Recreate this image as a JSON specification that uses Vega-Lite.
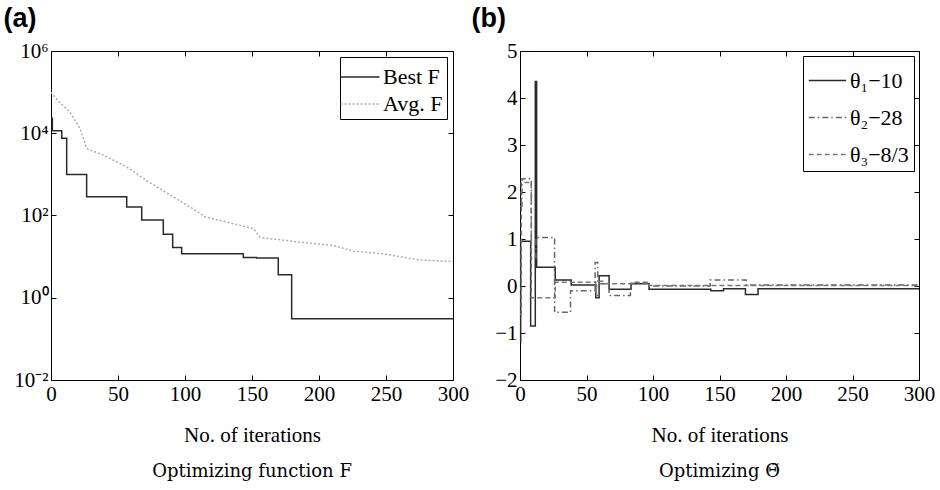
{
  "$schema": "https://vega.github.io/schema/vega-lite/v6.json",
  "padding": {"left": 3, "top": 4, "right": 5, "bottom": 5},
  "background": "white",
  "config": {
    "font": "Liberation Serif",
    "view": {"stroke": null},
    "title": {"font": "DejaVu Serif", "fontSize": 18, "fontWeight": "normal", "color": "black", "orient": "bottom", "offset": 18},
    "axis": {
      "labelFont": "Liberation Serif", "titleFont": "Liberation Serif",
      "labelColor": "black", "titleColor": "black",
      "domainColor": "black", "tickColor": "black", "domainWidth": 1, "tickWidth": 1,
      "grid": false, "labelFontSize": 21, "titleFontSize": 21, "titleFontWeight": "normal",
      "tickSize": -5, "labelPadding": 8, "labelFlush": false, "labelOverlap": false
    },
    "legend": {
      "labelFont": "Liberation Serif", "labelColor": "black", "symbolType": "stroke",
      "strokeColor": "black", "fillColor": "white", "orient": "top-right", "offset": 5
    }
  },
  "resolve": {"scale": {"color": "independent", "strokeDash": "independent"}, "legend": {"color": "independent", "strokeDash": "independent"}},
  "datasets": {
    "bestF": [
      {"iter": 0, "value": 23000, "series": "Best F"},
      {"iter": 1, "value": 11500, "series": "Best F"},
      {"iter": 8, "value": 7600, "series": "Best F"},
      {"iter": 11.7, "value": 1000, "series": "Best F"},
      {"iter": 26.6, "value": 285, "series": "Best F"},
      {"iter": 56.5, "value": 162, "series": "Best F"},
      {"iter": 67.7, "value": 78, "series": "Best F"},
      {"iter": 83.8, "value": 35, "series": "Best F"},
      {"iter": 90.8, "value": 16.6, "series": "Best F"},
      {"iter": 97.5, "value": 11.8, "series": "Best F"},
      {"iter": 143.5, "value": 9.5, "series": "Best F"},
      {"iter": 153.5, "value": 9.2, "series": "Best F"},
      {"iter": 169.6, "value": 3.6, "series": "Best F"},
      {"iter": 179.6, "value": 0.31, "series": "Best F"},
      {"iter": 300, "value": 0.31, "series": "Best F"}
    ],
    "avgF": [
      {"iter": 0, "value": 100000, "series": "Avg. F"},
      {"iter": 5, "value": 63000, "series": "Avg. F"},
      {"iter": 14, "value": 33000, "series": "Avg. F"},
      {"iter": 21.6, "value": 13200, "series": "Avg. F"},
      {"iter": 26.6, "value": 4270, "series": "Avg. F"},
      {"iter": 39, "value": 2950, "series": "Avg. F"},
      {"iter": 56.5, "value": 1510, "series": "Avg. F"},
      {"iter": 71.4, "value": 708, "series": "Avg. F"},
      {"iter": 91.3, "value": 282, "series": "Avg. F"},
      {"iter": 106, "value": 145, "series": "Avg. F"},
      {"iter": 115, "value": 93, "series": "Avg. F"},
      {"iter": 151, "value": 48, "series": "Avg. F"},
      {"iter": 156, "value": 29.5, "series": "Avg. F"},
      {"iter": 161, "value": 28, "series": "Avg. F"},
      {"iter": 186, "value": 22.4, "series": "Avg. F"},
      {"iter": 211, "value": 18.6, "series": "Avg. F"},
      {"iter": 226, "value": 13.5, "series": "Avg. F"},
      {"iter": 248, "value": 11.7, "series": "Avg. F"},
      {"iter": 275, "value": 8.3, "series": "Avg. F"},
      {"iter": 300, "value": 7.6, "series": "Avg. F"}
    ],
    "theta": [
      {"iter": 0, "value": -1.2, "series": "θ₁−10"},
      {"iter": 0.5, "value": 0.95, "series": "θ₁−10"},
      {"iter": 8, "value": -0.85, "series": "θ₁−10"},
      {"iter": 11.5, "value": 4.35, "series": "θ₁−10"},
      {"iter": 12.5, "value": 0.4, "series": "θ₁−10"},
      {"iter": 26.5, "value": 0.13, "series": "θ₁−10"},
      {"iter": 38.5, "value": 0.02, "series": "θ₁−10"},
      {"iter": 57, "value": -0.25, "series": "θ₁−10"},
      {"iter": 59.5, "value": 0.22, "series": "θ₁−10"},
      {"iter": 67, "value": -0.07, "series": "θ₁−10"},
      {"iter": 83.5, "value": 0.05, "series": "θ₁−10"},
      {"iter": 97, "value": -0.07, "series": "θ₁−10"},
      {"iter": 143.5, "value": -0.1, "series": "θ₁−10"},
      {"iter": 153, "value": -0.06, "series": "θ₁−10"},
      {"iter": 169.5, "value": -0.18, "series": "θ₁−10"},
      {"iter": 179, "value": -0.06, "series": "θ₁−10"},
      {"iter": 300, "value": -0.06, "series": "θ₁−10"},
      {"iter": 0, "value": 1.7, "series": "θ₂−28"},
      {"iter": 1.5, "value": 2.28, "series": "θ₂−28"},
      {"iter": 8.5, "value": 0.6, "series": "θ₂−28"},
      {"iter": 12, "value": 1.03, "series": "θ₂−28"},
      {"iter": 26, "value": -0.56, "series": "θ₂−28"},
      {"iter": 38, "value": -0.1, "series": "θ₂−28"},
      {"iter": 56.5, "value": 0.5, "series": "θ₂−28"},
      {"iter": 58.5, "value": 0.05, "series": "θ₂−28"},
      {"iter": 67, "value": -0.2, "series": "θ₂−28"},
      {"iter": 83, "value": 0.06, "series": "θ₂−28"},
      {"iter": 97, "value": 0.0, "series": "θ₂−28"},
      {"iter": 143, "value": 0.13, "series": "θ₂−28"},
      {"iter": 170, "value": 0.02, "series": "θ₂−28"},
      {"iter": 300, "value": 0.02, "series": "θ₂−28"},
      {"iter": 0, "value": -0.6, "series": "θ₃−8/3"},
      {"iter": 1, "value": 2.2, "series": "θ₃−8/3"},
      {"iter": 8.5, "value": -0.25, "series": "θ₃−8/3"},
      {"iter": 26.5, "value": 0.08, "series": "θ₃−8/3"},
      {"iter": 57, "value": -0.2, "series": "θ₃−8/3"},
      {"iter": 59, "value": 0.1, "series": "θ₃−8/3"},
      {"iter": 62, "value": 0.05, "series": "θ₃−8/3"},
      {"iter": 85, "value": 0.08, "series": "θ₃−8/3"},
      {"iter": 97, "value": 0.01, "series": "θ₃−8/3"},
      {"iter": 300, "value": 0.01, "series": "θ₃−8/3"}
    ]
  },
  "spacing": 2,
  "hconcat": [
    {
      "title": {"text": "Optimizing function F"},
      "width": 402,
      "height": 329,
      "layer": [
        {
          "data": {"name": "bestF"},
          "mark": {"type": "line", "interpolate": "step-after", "strokeWidth": 1.5},
          "encoding": {
            "x": {"field": "iter", "type": "quantitative", "scale": {"domain": [0, 300], "nice": false},
              "axis": {"values": [0, 50, 100, 150, 200, 250, 300], "title": "No. of iterations", "titlePadding": 20}},
            "y": {"field": "value", "type": "quantitative", "scale": {"type": "log", "domain": [0.01, 1000000], "nice": false},
              "axis": {"values": [0.01, 1, 100, 10000, 1000000],
                "title": "(a)", "titleFont": "Liberation Sans", "titleFontWeight": "bold", "titleFontSize": 27, "titleAngle": 0,
                "titleAlign": "left", "titleBaseline": "alphabetic", "titleX": -48, "titleY": -25,
                "labelExpr": "datum.value > 100000 ? '10⁶' : datum.value > 1000 ? '10⁴' : datum.value > 10 ? '10²' : datum.value > 0.1 ? '10⁰' : '10⁻²'"}},
            "color": {"field": "series", "type": "nominal", "scale": {"domain": ["Best F", "Avg. F"], "range": ["#2a2a2a", "#adadad"]},
              "legend": {"title": null, "labelFontSize": 22, "symbolType": "M-1.3,0H1.3", "symbolSize": 900, "symbolStrokeWidth": 1.5, "padding": 4, "rowPadding": 0, "labelOffset": 7, "offset": 6}},
            "strokeDash": {"field": "series", "type": "nominal", "scale": {"domain": ["Best F", "Avg. F"], "range": [[1, 0], [2, 2]]},
              "legend": {"title": null, "labelFontSize": 22, "symbolType": "M-1.3,0H1.3", "symbolSize": 900, "symbolStrokeWidth": 1.5, "padding": 4, "rowPadding": 0, "labelOffset": 7, "offset": 6}}
          }
        },
        {
          "data": {"name": "avgF"},
          "mark": {"type": "line", "strokeWidth": 1.5},
          "encoding": {
            "x": {"field": "iter", "type": "quantitative", "scale": {"domain": [0, 300], "nice": false}, "axis": null},
            "y": {"field": "value", "type": "quantitative", "scale": {"type": "log", "domain": [0.01, 1000000], "nice": false}, "axis": null},
            "color": {"field": "series", "type": "nominal"},
            "strokeDash": {"field": "series", "type": "nominal"}
          }
        },
        {
          "data": {"name": "bestF"},
          "mark": {"type": "line", "opacity": 0},
          "encoding": {
            "x": {"field": "iter", "type": "quantitative", "scale": {"domain": [0, 300], "nice": false},
              "axis": {"orient": "top", "labels": false, "title": null, "values": [0, 50, 100, 150, 200, 250, 300]}},
            "y": {"field": "value", "type": "quantitative", "scale": {"type": "log", "domain": [0.01, 1000000], "nice": false},
              "axis": {"orient": "right", "labels": false, "title": null, "values": [0.01, 1, 100, 10000, 1000000]}}
          }
        }
      ],
      "resolve": {"axis": {"x": "independent", "y": "independent"}}
    },
    {
      "title": {"text": "Optimizing Θ̃"},
      "width": 399,
      "height": 329,
      "layer": [
        {
          "data": {"name": "theta"},
          "mark": {"type": "line", "interpolate": "step-after", "strokeWidth": 1.5},
          "encoding": {
            "x": {"field": "iter", "type": "quantitative", "scale": {"domain": [0, 300], "nice": false},
              "axis": {"values": [0, 50, 100, 150, 200, 250, 300], "title": "No. of iterations", "titlePadding": 20}},
            "y": {"field": "value", "type": "quantitative", "scale": {"domain": [-2, 5], "nice": false},
              "axis": {"values": [-2, -1, 0, 1, 2, 3, 4, 5],
                "title": "(b)", "titleFont": "Liberation Sans", "titleFontWeight": "bold", "titleFontSize": 27, "titleAngle": 0,
                "titleAlign": "left", "titleBaseline": "alphabetic", "titleX": -49, "titleY": -25}},
            "color": {"field": "series", "type": "nominal", "scale": {"domain": ["θ₁−10", "θ₂−28", "θ₃−8/3"], "range": ["#2a2a2a", "#666666", "#777777"]},
              "legend": {"title": null, "labelFontSize": 22, "symbolSize": 1400, "symbolStrokeWidth": 1.5, "padding": 5, "rowPadding": 6, "labelOffset": 3}},
            "strokeDash": {"field": "series", "type": "nominal", "scale": {"domain": ["θ₁−10", "θ₂−28", "θ₃−8/3"], "range": [[1, 0], [6, 3, 1.5, 3], [5, 3]]},
              "legend": {"title": null, "labelFontSize": 22, "symbolSize": 1400, "symbolStrokeWidth": 1.5, "padding": 5, "rowPadding": 6, "labelOffset": 3}}
          }
        },
        {
          "data": {"name": "theta"},
          "mark": {"type": "line", "opacity": 0},
          "encoding": {
            "x": {"field": "iter", "type": "quantitative", "scale": {"domain": [0, 300], "nice": false},
              "axis": {"orient": "top", "labels": false, "title": null, "values": [0, 50, 100, 150, 200, 250, 300]}},
            "y": {"field": "value", "type": "quantitative", "scale": {"domain": [-2, 5], "nice": false},
              "axis": {"orient": "right", "labels": false, "title": null, "values": [-2, -1, 0, 1, 2, 3, 4, 5]}}
          }
        }
      ],
      "resolve": {"axis": {"x": "independent", "y": "independent"}}
    }
  ]
}
